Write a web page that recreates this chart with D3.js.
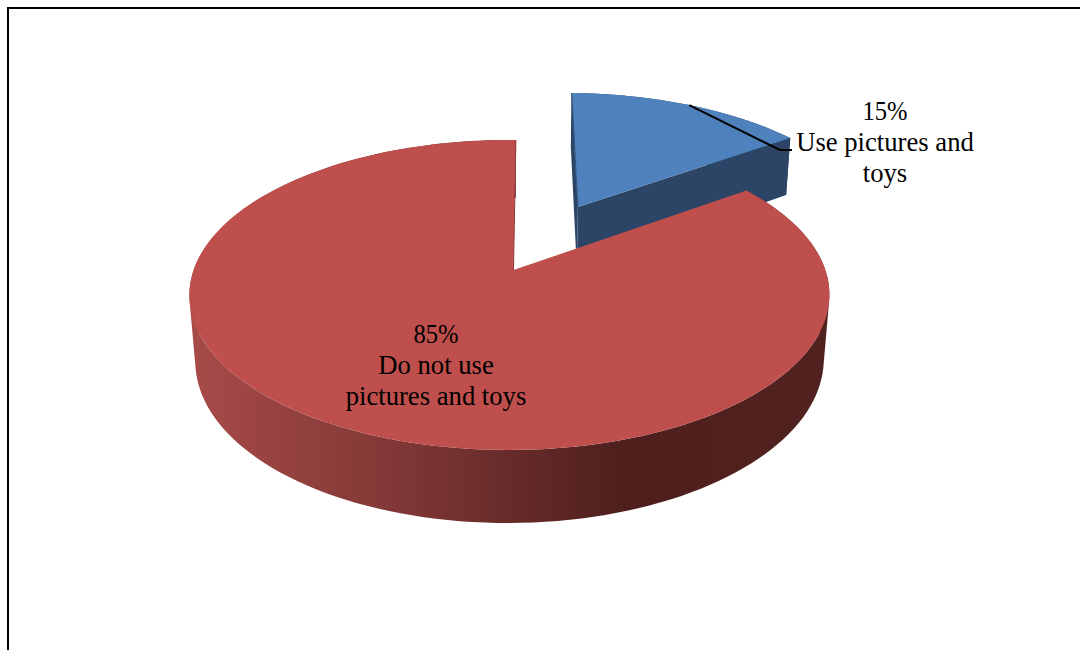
<!DOCTYPE html>
<html>
<head>
<meta charset="utf-8">
<script src="https://cdn.jsdelivr.net/npm/d3@7"></script>
<style>
  html, body { margin: 0; padding: 0; background: #fff; overflow: hidden; }
  svg { display: block; }
  text { font-family: "Liberation Serif", serif; font-size: 26.67px; fill: #000; text-anchor: middle; }
</style>
</head>
<body>
<svg id="chart" width="1080" height="650"></svg>
<script>
// Survey shares, clockwise from just past twelve o'clock
const categories = ["Use pictures and toys", "Do not use pictures and toys"];
const shares = [15, 85];
const labelLines = [["Use pictures and", "toys"], ["Do not use", "pictures and toys"]];
const topColors = ["#4f81bd", "#be4f4c"];
const wallColors = ["#2c4566", "#2c4566"];
const edgeColors = ["#35577f", "#8f3c3a"];

// Camera for the tilted disc
const apex = { x: 513.5, y: 270 };
const scaleX = 315.8, scaleY = 151, depth = 65.8;
const perspective = 0.161, sidePerspective = 0.0127, depthFalloff = 0.018;
const rotation = 0.5 * Math.PI / 180;
const explodeDistance = 0.5, explodeAngle = 26 * Math.PI / 180;

const svg = d3.select("#chart");

// Maps a disc position (radius, angle, level, explode distance) to the page
function project(radius, angle, level, offset) {
  const sx = radius * Math.sin(angle) + offset * Math.sin(explodeAngle);
  const sc = radius * Math.cos(angle) + offset * Math.cos(explodeAngle);
  const w = 1 + perspective * sc + sidePerspective * sx + depthFalloff * level;
  return [apex.x + scaleX * sx / w, apex.y + (-scaleY * sc + depth * level) / w];
}

const arcs = d3.pie().sort(null).value(d => d)
  .startAngle(rotation).endAngle(rotation + 2 * Math.PI)(shares);

const line = d3.line();
const arcAngles = (a, b) => d3.range(0, 161).map(i => a + (b - a) * i / 160);

// Every strip gets the same winding so overlaps at the silhouette stay filled
const strip = pts => line(d3.polygonArea(pts) < 0 ? pts.slice().reverse() : pts) + "Z";

const defs = svg.append("defs");
const grad = defs.append("linearGradient").attr("id", "redWall")
  .attr("gradientUnits", "userSpaceOnUse")
  .attr("x1", 190).attr("x2", 830).attr("y1", 0).attr("y2", 0);
[[0, "#a84b49"], [0.33, "#7f3735"], [0.68, "#4e1f1d"], [1, "#522221"]]
  .forEach(([o, c]) => grad.append("stop").attr("offset", o).attr("stop-color", c));

// Frame: only the top and left rules fall inside the page
svg.append("path").attr("d", "M8,650V8H1080")
  .attr("fill", "none").attr("stroke", "#000").attr("stroke-width", 2);

arcs.forEach((d, i) => {
  const off = i === 0 ? explodeDistance : 0;
  const angles = arcAngles(d.startAngle, d.endAngle);
  const topRim = angles.map(a => project(1, a, 0, off));
  const lowRim = angles.map(a => project(1, a, 1, off));
  const centreTop = project(0, 0, 0, off);
  const centreLow = project(0, 0, 1, off);

  // outer wall, swept strip by strip so the silhouette follows both rims
  const strips = d3.range(topRim.length - 1)
    .map(k => strip([topRim[k], topRim[k + 1], lowRim[k + 1], lowRim[k]]))
    .join("");
  svg.append("path")
    .attr("d", strips)
    .attr("fill", i === 1 ? "url(#redWall)" : wallColors[i]);

  // both cut faces of the detached slice
  if (i === 0) {
    [0, 160].forEach(k => {
      svg.append("path")
        .attr("d", strip([centreTop, topRim[k], lowRim[k], centreLow]))
        .attr("fill", wallColors[i]);
    });
  }

  // top surface
  svg.append("path")
    .attr("d", line([centreTop].concat(topRim)) + "Z")
    .attr("fill", topColors[i]);

  // narrow sliver of the cut face along the twelve o'clock edge
  const edgeEnd = i === 0 ? topRim[0] : topRim[160];
  svg.append("path")
    .attr("d", line([centreTop, edgeEnd]))
    .attr("fill", "none")
    .attr("stroke", edgeColors[i])
    .attr("stroke-width", i === 0 ? 1.2 : 1);
});

// Leader from the middle of the small slice's rim to its label
const small = arcs[0];
const leaderStart = project(1, (small.startAngle + small.endAngle) / 2, 0, explodeDistance);
svg.append("path")
  .attr("d", line([leaderStart, [780, 150], [792, 150]]))
  .attr("fill", "none").attr("stroke", "#000").attr("stroke-width", 2);

// Value and category labels
const labelAnchors = [{ x: 885, y: 120 }, { x: 436, y: 343 }];
shares.forEach((v, i) => {
  svg.append("text")
    .attr("x", labelAnchors[i].x).attr("y", labelAnchors[i].y)
    .attr("textLength", 45).attr("lengthAdjust", "spacingAndGlyphs")
    .text(v + "%");
  labelLines[i].forEach((s, j) => {
    svg.append("text")
      .attr("x", labelAnchors[i].x)
      .attr("y", labelAnchors[i].y + (j + 1) * 31)
      .text(s);
  });
});
</script>
</body>
</html>
